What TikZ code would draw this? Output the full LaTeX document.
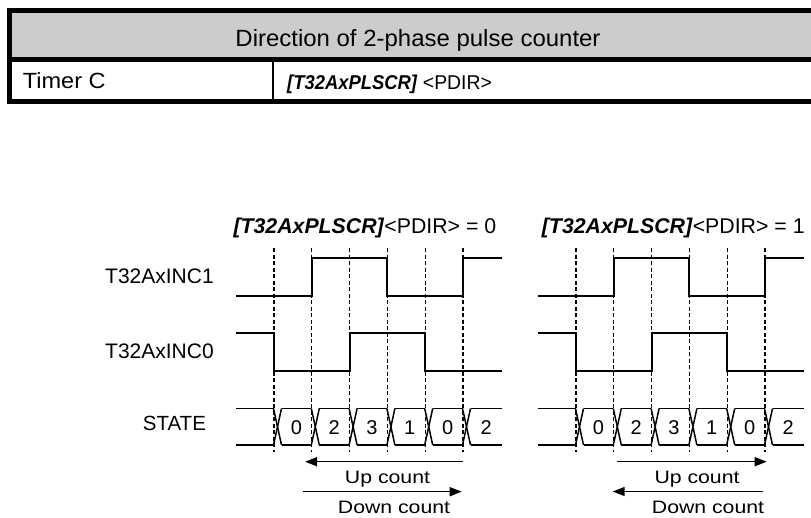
\documentclass[tikz,border=0pt]{standalone}
\usepackage{fontspec}
\usepackage{graphicx}
\setmainfont{Liberation Sans}
\usetikzlibrary{arrows.meta}
\definecolor{hdrgray}{HTML}{CCCCCC}
% #1 size, #2 horizontal scale, #3 text
\newcommand\sizedtext[3]{\fontsize{#1}{#1}\selectfont\scalebox{#2}[1]{#3}}
\newcommand\reg{\textbf{\textit{[T32AxPLSCR]}}}
\begin{document}
\begin{tikzpicture}[x=1pt,y=-1pt,
  lbl/.style={inner sep=0pt, anchor=base west},
  digit/.style={inner sep=0pt, anchor=base},
  ctext/.style={inner sep=0pt, anchor=base},
  frame/.style={line width=4.7pt, line join=miter},
  thin/.style={line width=1.5pt},
  sig/.style={line width=2pt, line join=miter},
  guide/.style={line width=1.1pt, dash pattern=on 4pt off 2.5pt},
  bus/.style={line width=1.5pt},
  cnt/.style={line width=1.5pt, -{Triangle[length=12pt,width=9pt]}},
]
\useasboundingbox (0,0) rectangle (811,517);

% ---- table ----
\fill[hdrgray] (9.3,10.3) rectangle (830,59.5);
\draw[frame] (830,10.3) -- (9.3,10.3) -- (9.3,101.3) -- (830,101.3);
\draw[frame] (9.3,59.5) -- (830,59.5);
\draw[thin] (273,59.5) -- (273,101.3);
\node[ctext] (hdr) at (418,46.7) {\sizedtext{23.5}{1.02}{Direction of 2-phase pulse counter}};
\node[lbl] (timer) at (22.7,88.4) {\sizedtext{22}{1.07}{Timer C}};
\node[lbl] (bits) at (287,89) {\sizedtext{20}{0.92}{\reg}\sizedtext{20}{0.97}{ <PDIR>}};

% ---- signal names ----
\node[lbl] (inc1) at (105,283.3) {\sizedtext{21}{1}{T32AxINC1}};
\node[lbl] (inc0) at (105,358.3) {\sizedtext{21}{1}{T32AxINC0}};
\node[lbl] (state) at (142.7,430) {\sizedtext{20.5}{1}{STATE}};

% ---- register settings above each waveform set ----
\node[lbl] (title0) at (233.3,233) {\sizedtext{21.3}{1}{\reg<PDIR> = 0}};
\node[lbl] (title1) at (541.7,233) {\sizedtext{21.3}{1}{\reg<PDIR> = 1}};

% ---- two waveform sets, identical apart from the count arrows ----
\foreach \off/\v in {0/0,302/1} {
  \begin{scope}[xshift=\off pt]
    \foreach \i in {0,...,5}
      \draw[guide] (274+37.8*\i,248) -- (274+37.8*\i,452);
    \draw[sig] (236,295.5) -- (311.8,295.5) -- (311.8,258) -- (387.4,258)
      -- (387.4,295.5) -- (463,295.5) -- (463,258) -- (502,258);
    \draw[sig] (236,333.3) -- (274,333.3) -- (274,370.7) -- (349.6,370.7)
      -- (349.6,333.3) -- (425.2,333.3) -- (425.2,370.7) -- (502,370.7);
    % state bus
    \draw[bus] (236,408.5) -- (273.5,408.5);
    \draw[bus] (236,445) -- (273.5,445);
    \foreach \i in {0,...,5} {
      \draw[bus] (273.5+37.8*\i,408.5) -- (281.5+37.8*\i,445);
      \draw[bus] (273.5+37.8*\i,445) -- (281.5+37.8*\i,408.5);
    }
    \foreach \i in {0,...,4} {
      \draw[bus] (281.5+37.8*\i,408.5) -- (311.3+37.8*\i,408.5);
      \draw[bus] (281.5+37.8*\i,445) -- (311.3+37.8*\i,445);
    }
    \draw[bus] (470.5,408.5) -- (502,408.5);
    \draw[bus] (470.5,445) -- (502,445);
    \foreach \i/\d in {0/0,1/2,2/3,3/1,4/0}
      \node[digit] (s\v\i) at (296.4+37.8*\i,434) {\sizedtext{20}{1}{\d}};
    \node[digit] (s\v5) at (486.2,434) {\sizedtext{20}{1}{2}};
  \end{scope}
}

% ---- count directions ----
\coordinate (lu1) at (463.3,461.7); \coordinate (lu2) at (305,461.7);
\coordinate (ld1) at (303.3,491.7); \coordinate (ld2) at (461.7,491.7);
\coordinate (ru1) at (616.7,461.7); \coordinate (ru2) at (766.7,461.7);
\coordinate (rd1) at (763,491.5);   \coordinate (rd2) at (612.7,491.5);
\draw[cnt] (lu1) -- (lu2);
\draw[cnt] (ld1) -- (ld2);
\draw[cnt] (ru1) -- (ru2);
\draw[cnt] (rd1) -- (rd2);
\node[ctext] (lup) at (387.5,483.3) {\sizedtext{18}{1.18}{Up count}};
\node[ctext] (ldn) at (394,513.3) {\sizedtext{18}{1.18}{Down count}};
\node[ctext] (rup) at (697,483.3) {\sizedtext{18}{1.18}{Up count}};
\node[ctext] (rdn) at (708,513.3) {\sizedtext{18}{1.18}{Down count}};
\end{tikzpicture}
\end{document}
